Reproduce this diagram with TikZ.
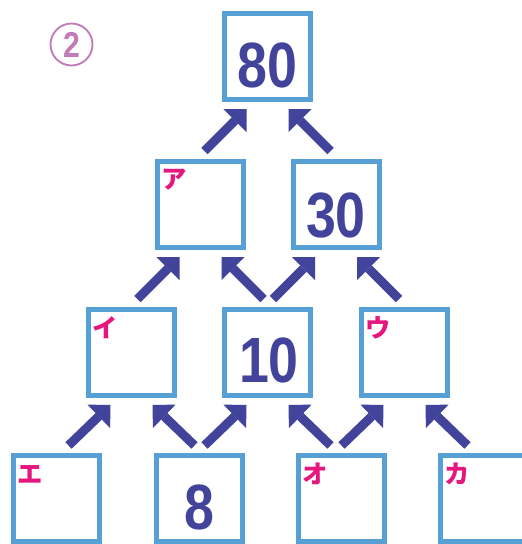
\documentclass[tikz,border=0pt]{standalone}
\usepackage{fontspec}
\newfontfamily\numfont[FakeStretch=0.84]{Liberation Sans}
\newfontfamily\kanafont{Noto Sans CJK JP}
\usetikzlibrary{arrows.meta}
\definecolor{boxblue}{HTML}{56A0D5}
\definecolor{arrowblue}{HTML}{42439A}
\definecolor{kanapink}{HTML}{E5177F}
\definecolor{circpurple}{HTML}{C07CB8}
\begin{document}
\begin{tikzpicture}[x=0.75pt,y=-0.75pt,
  box/.style={draw=boxblue,line width=3.75pt,minimum size=64.5pt,inner sep=0pt},
  num/.style={text=arrowblue,inner sep=0pt,font=\numfont\bfseries\fontsize{48}{48}\selectfont},
  kana/.style={text=kanapink,inner sep=0pt,font=\kanafont\bfseries\fontsize{19}{19}\selectfont},
  arr/.style={draw=arrowblue,line width=6.75pt,-{Triangle[width=24.5pt,length=12.25pt,line width=0pt]}}]
  \useasboundingbox (0,0) rectangle (522,544);
  \clip (0,0) rectangle (522,544);

  % 番号
  \node[circle,draw=circpurple,line width=1.4pt,minimum size=31.5pt,inner sep=0pt,
    text=circpurple,font=\numfont\bfseries\fontsize{27}{27}\selectfont] (no) at (71.5,44.5) {2};

  % 箱
  \node[box] (n80) at (267.5,56) {};
  \node[box] (nA) at (200.5,204) {};
  \node[box] (n30) at (336,204) {};
  \node[box] (nI) at (131.5,352) {};
  \node[box] (n10) at (267.5,352) {};
  \node[box] (nU) at (404.5,352) {};
  \node[box] (nE) at (56,498.5) {};
  \node[box] (n8) at (199,498.5) {};
  \node[box] (nO) at (341,498.5) {};
  \node[box] (nKa) at (483,498.5) {};

  % 数
  \node[num] (t80) at ([shift={(0,9.5)}]n80.center) {80};
  \node[num] (t30) at ([shift={(0,11.5)}]n30.center) {30};
  \node[num] (t10) at ([shift={(1.5,8)}]n10.center) {10};
  \node[num] (t8) at ([shift={(0,8.5)}]n8.center) {8};

  % カナ
  \foreach \n/\t in {nA/ア,nI/イ,nU/ウ,nE/エ,nO/オ,nKa/カ}
    \node[kana] (l\n) at ([shift={(19.5,21)}]\n.north west) {\t};

  % 矢印
  \foreach \lo/\up/\dx/\tx in {nA/n80/4/-21,n30/n80/-5.5/21,
      nI/nA/6/-21,n10/nA/-4/21,n10/n30/5.5/-21,nU/n30/-5.5/21,
      nE/nI/12.5/-21,n8/nI/-4.5/21,n8/n10/5.5/-21,nO/n10/-10.5/21,
      nO/nU/0.5/-21,nKa/nU/-15.5/21}
    \draw[arr] ([shift={(\dx,-53)}]\lo.center) -- ([shift={(\tx,53)}]\up.center);
\end{tikzpicture}
\end{document}
